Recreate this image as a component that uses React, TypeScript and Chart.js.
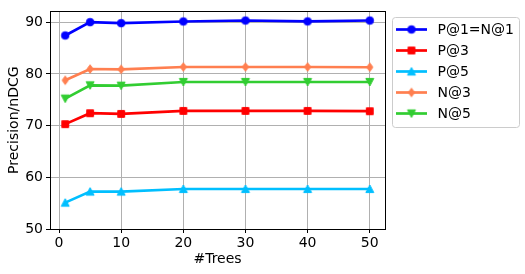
import React, { useEffect, useRef } from "react";
import { Chart, registerables } from "chart.js";

Chart.register(...registerables);

const trees = [1, 5, 10, 20, 30, 40, 50];
const p1 = [87.43, 90.0, 89.81, 90.13, 90.32, 90.15, 90.32];
const p3 = [70.28, 72.39, 72.26, 72.84, 72.84, 72.84, 72.78];
const p5 = [55.1, 57.23, 57.23, 57.74, 57.74, 57.74, 57.74];
const n3 = [78.76, 80.94, 80.88, 81.33, 81.33, 81.33, 81.28];
const n5 = [75.22, 77.79, 77.72, 78.43, 78.43, 78.43, 78.43];
const seriesLabels = ["P@1=N@1", "P@3", "P@5", "N@3", "N@5"];
const seriesColors = ["#0000ff", "#ff0000", "#00bfff", "#ff7f50", "#32cd32"];
const seriesMarkers = ["circle", "square", "triUp", "thinDiamond", "triDown"];
const yTicks = [50, 60, 70, 80, 90];
const xTicks = [0, 10, 20, 30, 40, 50];

const FONT = "DejaVu Sans";

function makeMarker(shape: string, color: string): HTMLCanvasElement {
  const s = 12;
  const c = document.createElement("canvas");
  c.width = s;
  c.height = s;
  const ctx = c.getContext("2d")!;
  const m = s / 2;
  ctx.fillStyle = color;
  ctx.strokeStyle = color;
  ctx.lineWidth = 1;
  ctx.beginPath();
  if (shape === "circle") {
    ctx.arc(m, m, 3.8, 0, Math.PI * 2);
  } else if (shape === "square") {
    ctx.rect(m - 3.4, m - 3.4, 6.8, 6.8);
  } else if (shape === "triUp") {
    ctx.moveTo(m, m - 4);
    ctx.lineTo(m + 4, m + 3.6);
    ctx.lineTo(m - 4, m + 3.6);
    ctx.closePath();
  } else if (shape === "triDown") {
    ctx.moveTo(m, m + 4);
    ctx.lineTo(m + 4, m - 3.6);
    ctx.lineTo(m - 4, m - 3.6);
    ctx.closePath();
  } else if (shape === "thinDiamond") {
    ctx.moveTo(m, m - 4.3);
    ctx.lineTo(m + 3.1, m);
    ctx.lineTo(m, m + 4.3);
    ctx.lineTo(m - 3.1, m);
    ctx.closePath();
  }
  ctx.fill();
  ctx.stroke();
  return c;
}

export default function App() {
  const ref = useRef<HTMLCanvasElement>(null);
  useEffect(() => {
    if (!ref.current) return;
    const series = [p1, p3, p5, n3, n5];
    const markers = seriesMarkers.map((s, i) => makeMarker(s, seriesColors[i]));
    const datasets = series.map((vals, i) => ({
      label: seriesLabels[i],
      data: trees.map((t, j) => ({ x: t, y: vals[j] })),
      borderColor: seriesColors[i],
      backgroundColor: seriesColors[i],
      borderWidth: 2.7,
      pointStyle: markers[i] as any,
      pointRadius: 4,
      tension: 0,
    }));

    const frameAndLegend = {
      id: "frameAndLegend",
      afterDraw(chart: any) {
        const ctx = chart.ctx as CanvasRenderingContext2D;
        const a = chart.chartArea;
        ctx.save();
        ctx.strokeStyle = "#000";
        ctx.lineWidth = 1;
        ctx.strokeRect(Math.round(a.left) + 0.5, Math.round(a.top) + 0.5, Math.round(a.right - a.left), Math.round(a.bottom - a.top));
        // legend
        const bx = 392.5, by = 17.5, bw = 127, bh = 110, r = 3;
        ctx.beginPath();
        ctx.moveTo(bx + r, by);
        ctx.lineTo(bx + bw - r, by);
        ctx.quadraticCurveTo(bx + bw, by, bx + bw, by + r);
        ctx.lineTo(bx + bw, by + bh - r);
        ctx.quadraticCurveTo(bx + bw, by + bh, bx + bw - r, by + bh);
        ctx.lineTo(bx + r, by + bh);
        ctx.quadraticCurveTo(bx, by + bh, bx, by + bh - r);
        ctx.lineTo(bx, by + r);
        ctx.quadraticCurveTo(bx, by, bx + r, by);
        ctx.closePath();
        ctx.fillStyle = "rgba(255,255,255,0.8)";
        ctx.fill();
        ctx.strokeStyle = "#cccccc";
        ctx.lineWidth = 1;
        ctx.stroke();
        ctx.font = `14px "${FONT}"`;
        ctx.textBaseline = "middle";
        ctx.textAlign = "left";
        seriesLabels.forEach((lab, i) => {
          const y = 29.5 + i * 21;
          ctx.strokeStyle = seriesColors[i];
          ctx.lineWidth = 2.7;
          ctx.beginPath();
          ctx.moveTo(396, y);
          ctx.lineTo(427, y);
          ctx.stroke();
          const mk = markers[i];
          ctx.drawImage(mk, 411.5 - mk.width / 2, y - mk.height / 2);
          ctx.fillStyle = "#000";
          ctx.fillText(lab, 437.5, y + 0.5);
        });
        ctx.restore();
      },
    };

    const chart = new Chart(ref.current, {
      type: "line",
      data: { datasets: datasets as any },
      options: {
        animation: false,
        responsive: false,
        devicePixelRatio: 1,
        layout: { padding: { left: 0, top: 10, right: 140, bottom: 0 } },
        plugins: { legend: { display: false }, tooltip: { enabled: false } },
        scales: {
          x: {
            type: "linear",
            min: -1.45,
            max: 52.45,
            afterBuildTicks: (s: any) => {
              s.ticks = xTicks.map((v) => ({ value: v }));
            },
            afterFit: (s: any) => {
              s.height = 45;
            },
            grid: { color: "#b0b0b0", lineWidth: 1, tickColor: "#000", tickLength: 4 },
            border: { display: false },
            ticks: { color: "#000", font: { family: FONT, size: 14 }, padding: 2, maxRotation: 0 },
            title: {
              display: true,
              text: "#Trees",
              color: "#000",
              font: { family: FONT, size: 14 },
              padding: { top: 0, bottom: 6.6 },
            },
          },
          y: {
            type: "linear",
            min: 50,
            max: 92.08,
            afterBuildTicks: (s: any) => {
              s.ticks = yTicks.map((v) => ({ value: v }));
            },
            afterFit: (s: any) => {
              s.width = 50;
            },
            grid: { color: "#b0b0b0", lineWidth: 1, tickColor: "#000", tickLength: 4 },
            border: { display: false },
            ticks: { color: "#000", font: { family: FONT, size: 14 }, padding: 3 },
            title: {
              display: true,
              text: "Precision/nDCG",
              color: "#000",
              font: { family: FONT, size: 14 },
              padding: { top: 6.3, bottom: 0 },
            },
          },
        },
      },
      plugins: [frameAndLegend],
    });
    return () => chart.destroy();
  }, []);

  return (
    <div style={{ position: "absolute", left: 0, top: 0, width: 525, height: 274, background: "#fff" }}>
      <canvas ref={ref} width={525} height={274} style={{ width: 525, height: 274, display: "block" }} />
    </div>
  );
}
